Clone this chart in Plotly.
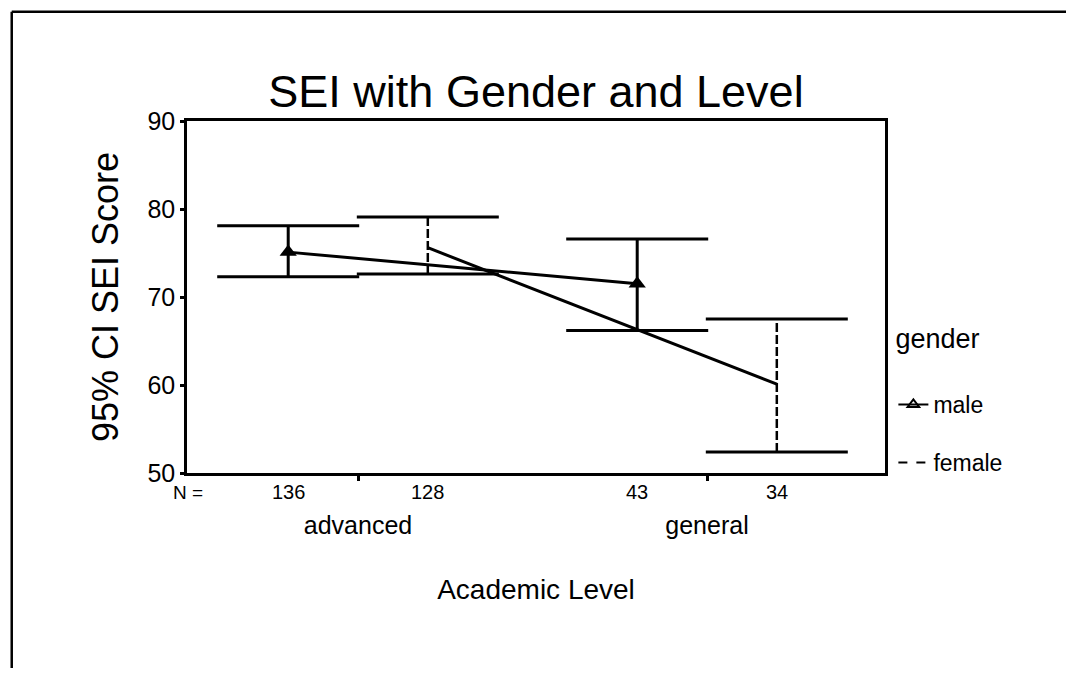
import plotly.graph_objects as go

# ---- data ----
categories = ["advanced", "general"]
genders = ["male", "female"]
male_mean = [75.1, 71.5]
male_lower = [72.3, 66.2]
male_upper = [78.1, 76.6]
female_mean = [75.6, 60.1]
female_lower = [72.6, 52.4]
female_upper = [79.1, 67.5]
male_n = [136, 43]
female_n = [128, 34]
y_ticks = [50, 60, 70, 80, 90]

FONT = "Liberation Sans, Arial, sans-serif"
BLACK = "black"
OFFSET = 0.2
CAP_HALF_PX = 71
PAGE_PAD = 8  # default body margin of the html page

cat_idx = list(range(len(categories)))
male_x = [i - OFFSET for i in cat_idx]
female_x = [i + OFFSET for i in cat_idx]

fig = go.Figure()

# male: line + triangles + solid error bars
fig.add_trace(go.Scatter(
    x=male_x, y=male_mean, mode="lines+markers",
    line=dict(color=BLACK, width=3),
    marker=dict(symbol="triangle-up", size=15, color=BLACK),
    error_y=dict(type="data", symmetric=False,
                 array=[u - m for u, m in zip(male_upper, male_mean)],
                 arrayminus=[m - l for m, l in zip(male_mean, male_lower)],
                 width=CAP_HALF_PX, thickness=3, color=BLACK),
    showlegend=False, hoverinfo="skip"))

# female: line
fig.add_trace(go.Scatter(
    x=female_x, y=female_mean, mode="lines",
    line=dict(color=BLACK, width=3),
    showlegend=False, hoverinfo="skip"))

# female: dashed stems
stem_x, stem_y = [], []
for x, lo, hi in zip(female_x, female_lower, female_upper):
    stem_x += [x, x, None]
    stem_y += [lo, hi, None]
fig.add_trace(go.Scatter(
    x=stem_x, y=stem_y, mode="lines",
    line=dict(color=BLACK, width=2.5, dash="9px,3px"),
    showlegend=False, hoverinfo="skip"))

# female: caps (line-ew symbol is drawn 1.4x its size)
fig.add_trace(go.Scatter(
    x=female_x + female_x, y=female_lower + female_upper, mode="markers",
    marker=dict(symbol="line-ew", size=2 * CAP_HALF_PX / 1.4,
                line=dict(color=BLACK, width=3)),
    showlegend=False, hoverinfo="skip"))

# legend entries
fig.add_trace(go.Scatter(
    x=[None], y=[None], mode="lines+markers", name=genders[0],
    legendgroup="m",
    line=dict(color=BLACK, width=2),
    marker=dict(symbol="triangle-up-open", size=10, color=BLACK,
                line=dict(width=2, color=BLACK))))
fig.add_trace(go.Scatter(
    x=[None], y=[None], mode="lines", name=genders[1],
    legendgroup="f",
    line=dict(color=BLACK, width=2, dash="dash")))

# N counts
for xs, ns in ((male_x, male_n), (female_x, female_n)):
    for x, n in zip(xs, ns):
        fig.add_annotation(x=x, y=-0.054, xref="x", yref="paper",
                           text=str(n), showarrow=False,
                           font=dict(family=FONT, size=20, color=BLACK),
                           xanchor="center", yanchor="middle")
fig.add_annotation(x=0.026, y=-0.054, xref="paper", yref="paper",
                   text="N =", showarrow=False,
                   font=dict(family=FONT, size=19, color=BLACK),
                   xanchor="right", yanchor="middle")

# outer frame (top and left edges visible in the reference)
fig.add_shape(type="line", xref="paper", yref="paper",
              x0=-0.2511, x1=-0.2511, y0=1.3105, y1=-0.7,
              line=dict(color=BLACK, width=2.5))
fig.add_shape(type="line", xref="paper", yref="paper",
              x0=-0.2511, x1=1.4, y0=1.3105, y1=1.3105,
              line=dict(color=BLACK, width=2.5))

fig.update_layout(
    width=1074 - 2 * PAGE_PAD, height=676 - 2 * PAGE_PAD,
    margin=dict(l=187 - PAGE_PAD, r=1074 - PAGE_PAD - 885,
                t=121 - PAGE_PAD, b=676 - PAGE_PAD - 473),
    paper_bgcolor="white", plot_bgcolor="white",
    font=dict(family=FONT, color=BLACK),
    title=dict(text="SEI with Gender and Level", x=0.5, xref="paper",
               xanchor="center", y=1 - (91 - PAGE_PAD) / (676 - 2 * PAGE_PAD),
               yref="container", yanchor="middle",
               font=dict(family=FONT, size=45, color=BLACK)),
    legend=dict(x=1.012, y=0.455, xanchor="left", yanchor="top",
                title=dict(text="gender<br>&nbsp;",
                           font=dict(family=FONT, size=27, color=BLACK)),
                font=dict(family=FONT, size=23, color=BLACK),
                tracegroupgap=25, itemwidth=30,
                bgcolor="rgba(0,0,0,0)"),
    xaxis=dict(range=[-0.49, 1.51], tickvals=cat_idx, ticktext=categories,
               ticks="outside", ticklen=5, tickwidth=3, tickcolor=BLACK,
               ticklabelstandoff=23,
               tickfont=dict(family=FONT, size=25, color=BLACK),
               showline=True, mirror=True, linewidth=2.5, linecolor=BLACK,
               showgrid=False, zeroline=False,
               title=dict(text="Academic Level", standoff=42,
                          font=dict(family=FONT, size=28, color=BLACK))),
    yaxis=dict(range=[50, 90], tickvals=y_ticks,
               ticks="outside", ticklen=4, tickwidth=3, tickcolor=BLACK,
               tickfont=dict(family=FONT, size=25, color=BLACK),
               showline=True, mirror=True, linewidth=2.5, linecolor=BLACK,
               showgrid=False, zeroline=False,
               title=dict(text="95% CI SEI Score", standoff=18,
                          font=dict(family=FONT, size=36, color=BLACK))),
)

fig.write_html("out.html")
